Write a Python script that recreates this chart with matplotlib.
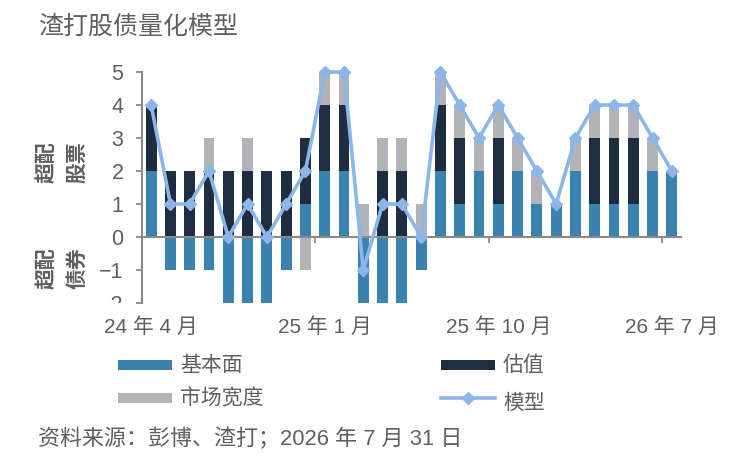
import matplotlib
matplotlib.use("Agg")
import matplotlib.pyplot as plt
import numpy as np
from matplotlib.lines import Line2D
from matplotlib.patches import Rectangle
from matplotlib.transforms import Bbox, TransformedBbox

plt.rcParams['font.family'] = ['Liberation Sans', 'Noto Sans CJK SC', 'DejaVu Sans']

months = ["2024-04", "2024-05", "2024-06", "2024-07", "2024-08", "2024-09", "2024-10",
          "2024-11", "2024-12", "2025-01", "2025-02", "2025-03", "2025-04", "2025-05",
          "2025-06", "2025-07", "2025-08", "2025-09", "2025-10", "2025-11", "2025-12",
          "2026-01", "2026-02", "2026-03", "2026-04", "2026-05", "2026-06", "2026-07"]
fundamentals = [2, -1, -1, -1, -2, -2, -2, -1, 1, 2, 2, -2, -2, -2, -1, 2, 1, 2, 1, 2, 1, 1, 2, 1, 1, 1, 2, 2]
valuation = [2, 2, 2, 2, 2, 2, 2, 2, 2, 2, 2, 0, 2, 2, 0, 2, 2, 0, 2, 0, 0, 0, 0, 2, 2, 2, 0, 0]
breadth = [0, 0, 0, 1, 0, 1, 0, 0, -1, 1, 1, 1, 1, 1, 1, 1, 1, 1, 1, 1, 1, 0, 1, 1, 1, 1, 1, 0]
model = [4, 1, 1, 2, 0, 1, 0, 1, 2, 5, 5, -1, 1, 1, 0, 5, 4, 3, 4, 3, 2, 1, 3, 4, 4, 4, 3, 2]
tick_label_idx = [0, 9, 18, 27]
tick_labels = ["24 年 4 月", "25 年 1 月", "25 年 10 月", "26 年 7 月"]
series_names = ["基本面", "估值", "市场宽度", "模型"]

C_FUND = "#3a83b1"
C_VAL = "#1e2d40"
C_BRD = "#b2b3b6"
C_MODEL = "#8cb6ea"
C_TEXT = "#5f5f5f"
C_AXIS = "#8a8a8a"

fig = plt.figure(figsize=(7.34, 4.74), dpi=100)
ax = fig.add_axes([141.5 / 734, 171 / 474, 540 / 734, 231 / 474])

x = np.arange(len(months))
pos_base = np.zeros(len(x))
neg_base = np.zeros(len(x))
w = 0.57
for vals, col in [(fundamentals, C_FUND), (valuation, C_VAL), (breadth, C_BRD)]:
    v = np.array(vals, dtype=float)
    bottoms = np.where(v >= 0, pos_base, neg_base)
    ax.bar(x, v, width=w, bottom=bottoms, color=col, zorder=2, linewidth=0)
    pos_base = pos_base + np.where(v > 0, v, 0)
    neg_base = neg_base + np.where(v < 0, v, 0)

ax.plot(x, model, color=C_MODEL, lw=2.6, marker='D', ms=6.5, mec=C_MODEL, mfc=C_MODEL,
        zorder=4, clip_on=False)

ax.set_xlim(-0.5, len(x) - 0.5)
ax.set_ylim(-2, 5)
ax.set_yticks(range(-2, 6))
for s in ['top', 'right']:
    ax.spines[s].set_visible(False)
ax.spines['bottom'].set_position(('data', 0))
ax.spines['bottom'].set_color(C_AXIS)
ax.spines['bottom'].set_linewidth(1.5)
ax.spines['bottom'].set_zorder(3)
ax.spines['left'].set_color(C_AXIS)
ax.spines['left'].set_linewidth(1.5)

ax.set_xticks(tick_label_idx)
ax.set_xticklabels(tick_labels)
ax.set_xticks([-0.5, 8.5, 17.5, 26.5], minor=True)
ax.tick_params(axis='x', which='major', length=0, pad=58, labelsize=15, labelcolor=C_TEXT)
ax.tick_params(axis='x', which='minor', length=4, width=1.3, color=C_AXIS, direction='out')
ax.tick_params(axis='y', length=4, width=1.3, color=C_AXIS, direction='out', pad=9,
               labelsize=15.5, labelcolor=C_TEXT)
ax.patch.set_visible(False)

# the bottom y label is cut at the plot's lower edge, as in the reference
clip = TransformedBbox(Bbox([[0, 171 / 474], [1, 1]]), fig.transFigure)
for lbl in ax.get_yticklabels():
    lbl.set_clip_box(clip)
    lbl.set_clip_on(True)

# side annotations
for txt, xp, yp in [("超配", 47, 162), ("股票", 78, 162), ("超配", 47, 268), ("债券", 78, 268)]:
    fig.text(xp / 734, 1 - yp / 474, txt, rotation=90, ha='center', va='center',
             fontsize=15, fontweight='bold', color=C_TEXT)

fig.text(38 / 734, 1 - 27 / 474, "渣打股债量化模型", fontsize=18, color=C_TEXT,
         ha='left', va='center')
fig.text(38 / 734, 1 - 439 / 474, "资料来源：彭博、渣打；2026 年 7 月 31 日", fontsize=15.8,
         color=C_TEXT, ha='left', va='center')

# legend
def px(xp, yp):
    return xp / 734, 1 - yp / 474

leg_items = [(series_names[0], C_FUND, 118, 365, 'patch'),
             (series_names[1], C_VAL, 441, 365, 'patch'),
             (series_names[2], C_BRD, 118, 398, 'patch'),
             (series_names[3], C_MODEL, 441, 398, 'line')]
for name, col, lx, ly, kind in leg_items:
    if kind == 'patch':
        x0, y0 = px(lx, ly + 5)
        fig.add_artist(Rectangle((x0, y0), 54 / 734, 10 / 474, transform=fig.transFigure,
                                 color=col, lw=0))
    else:
        xa, ya = px(lx, ly)
        xb, _ = px(lx + 54, ly)
        xm, _ = px(lx + 27, ly)
        fig.add_artist(Line2D([xa, xb], [ya, ya], transform=fig.transFigure, color=col, lw=2.6))
        fig.add_artist(Line2D([xm], [ya], transform=fig.transFigure, color=col, marker='D',
                              ms=6.5, mec=col, mfc=col, lw=0))
    tx, ty = px(lx + 62, ly + (5 if kind == 'line' else 0))
    fig.text(tx, ty, name, fontsize=15, color=C_TEXT, ha='left', va='center')

fig.savefig("out.png", dpi=100)
